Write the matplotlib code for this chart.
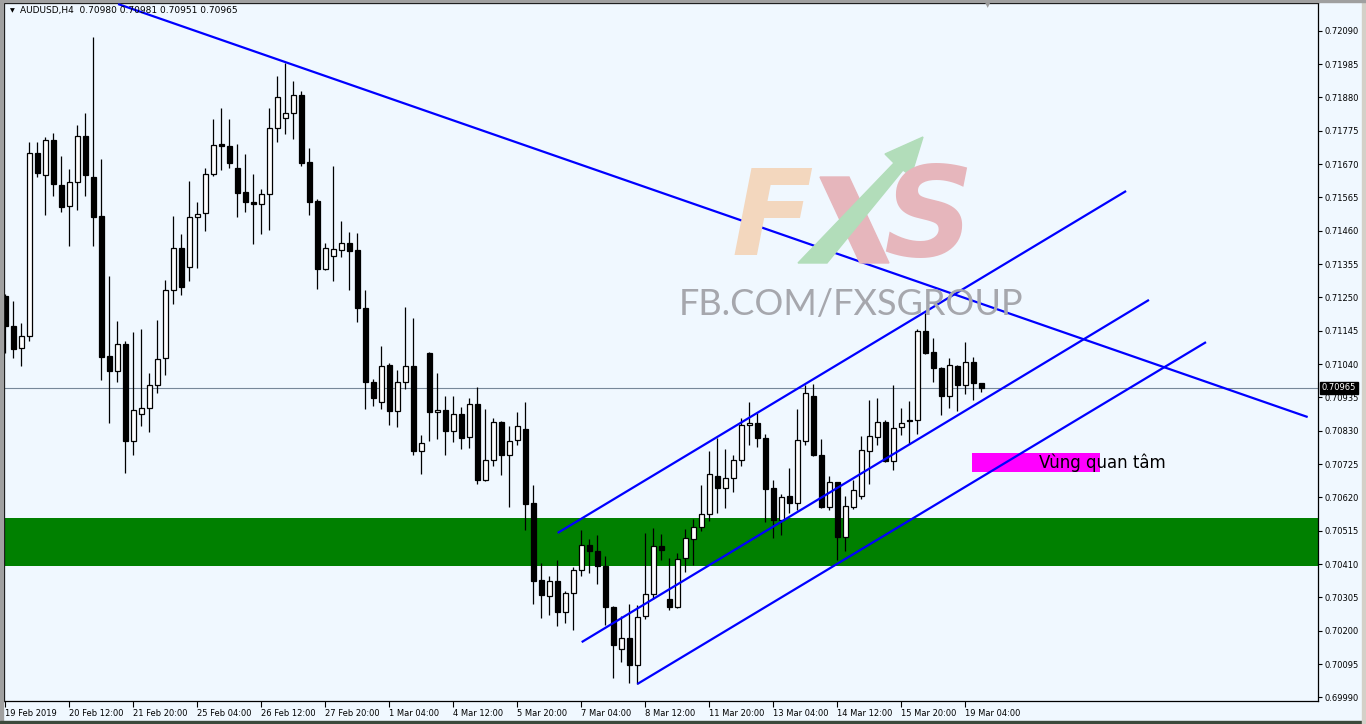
import matplotlib.pyplot as plt
from matplotlib.patches import Rectangle, Polygon

# AUDUSD H4 candles
opens = [0.71254, 0.71160, 0.71090, 0.71127, 0.71704, 0.71635, 0.71745, 0.71603, 0.71537, 0.71612,
         0.71757, 0.71628, 0.71505, 0.71064, 0.71017, 0.71102, 0.70799, 0.70882, 0.70901, 0.70973,
         0.71058, 0.71272, 0.71405, 0.71347, 0.71502, 0.71515, 0.71638, 0.71732, 0.71726, 0.71657,
         0.71581, 0.71550, 0.71543, 0.71575, 0.71783, 0.71814, 0.71830, 0.71887, 0.71676, 0.71554,
         0.71338, 0.71379, 0.71398, 0.71420, 0.71398, 0.71216, 0.70982, 0.70919, 0.71036, 0.70891,
         0.70982, 0.71033, 0.70765, 0.71074, 0.70888, 0.70894, 0.70828, 0.70882, 0.70809, 0.70913,
         0.70674, 0.70737, 0.70857, 0.70752, 0.70800, 0.70834, 0.70601, 0.70359, 0.70308, 0.70356,
         0.70258, 0.70318, 0.70390, 0.70469, 0.70450, 0.70403, 0.70274, 0.70141, 0.70176, 0.70091,
         0.70245, 0.70315, 0.70466, 0.70299, 0.70274, 0.70428, 0.70488, 0.70526, 0.70567, 0.70686,
         0.70649, 0.70680, 0.70737, 0.70847, 0.70853, 0.70806, 0.70649, 0.70550, 0.70623, 0.70601,
         0.70797, 0.70938, 0.70752, 0.70589, 0.70667, 0.70494, 0.70589, 0.70623, 0.70765, 0.70809,
         0.70857, 0.70734, 0.70841, 0.70863, 0.70863, 0.71143, 0.71077, 0.71027, 0.70938, 0.71033,
         0.70973, 0.71046, 0.70980]
highs = [0.71260, 0.71239, 0.71169, 0.71739, 0.71739, 0.71755, 0.71768, 0.71695, 0.71654, 0.71792,
         0.71830, 0.72070, 0.71685, 0.71317, 0.71175, 0.71114, 0.71140, 0.71149, 0.71011, 0.71179,
         0.71305, 0.71506, 0.71450, 0.71617, 0.71550, 0.71658, 0.71812, 0.71846, 0.71812, 0.71733,
         0.71702, 0.71639, 0.71590, 0.71846, 0.71947, 0.71988, 0.71932, 0.71900, 0.71721, 0.71560,
         0.71420, 0.71664, 0.71491, 0.71455, 0.71453, 0.71272, 0.70992, 0.71096, 0.71042, 0.71020,
         0.71219, 0.71184, 0.70815, 0.71077, 0.71011, 0.70938, 0.70938, 0.70904, 0.70932, 0.70967,
         0.70897, 0.70869, 0.70860, 0.70845, 0.70888, 0.70920, 0.70658, 0.70413, 0.70371, 0.70422,
         0.70324, 0.70400, 0.70516, 0.70488, 0.70500, 0.70434, 0.70277, 0.70245, 0.70283, 0.70281,
         0.70507, 0.70523, 0.70504, 0.70428, 0.70444, 0.70519, 0.70551, 0.70658, 0.70765, 0.70806,
         0.70771, 0.70752, 0.70870, 0.70920, 0.70885, 0.70819, 0.70674, 0.70630, 0.70712, 0.70897,
         0.70973, 0.70976, 0.70803, 0.70686, 0.70668, 0.70623, 0.70674, 0.70812, 0.70926, 0.70932,
         0.70863, 0.70973, 0.70901, 0.70923, 0.71149, 0.71200, 0.71121, 0.71030, 0.71058, 0.71036,
         0.71109, 0.71061, 0.70981]
lows = [0.71076, 0.71060, 0.71035, 0.71114, 0.71630, 0.71510, 0.71570, 0.71519, 0.71413, 0.71526,
        0.71570, 0.71413, 0.70991, 0.70855, 0.70984, 0.70698, 0.70754, 0.70846, 0.70827, 0.70950,
        0.71006, 0.71230, 0.71258, 0.71303, 0.71343, 0.71460, 0.71633, 0.71652, 0.71658, 0.71504,
        0.71519, 0.71419, 0.71451, 0.71463, 0.71740, 0.71766, 0.71750, 0.71665, 0.71510, 0.71275,
        0.71335, 0.71301, 0.71376, 0.71272, 0.71172, 0.70899, 0.70909, 0.70899, 0.70849, 0.70843,
        0.70960, 0.70752, 0.70693, 0.70797, 0.70803, 0.70752, 0.70793, 0.70771, 0.70775, 0.70661,
        0.70672, 0.70718, 0.70690, 0.70589, 0.70784, 0.70518, 0.70285, 0.70239, 0.70249, 0.70214,
        0.70223, 0.70201, 0.70371, 0.70381, 0.70346, 0.70217, 0.70050, 0.70100, 0.70034, 0.70032,
        0.70236, 0.70299, 0.70422, 0.70264, 0.70271, 0.70384, 0.70406, 0.70513, 0.70545, 0.70570,
        0.70586, 0.70637, 0.70719, 0.70784, 0.70780, 0.70543, 0.70491, 0.70500, 0.70570, 0.70579,
        0.70784, 0.70750, 0.70587, 0.70579, 0.70423, 0.70450, 0.70582, 0.70614, 0.70661, 0.70784,
        0.70731, 0.70705, 0.70815, 0.70787, 0.70819, 0.71072, 0.70982, 0.70879, 0.70901, 0.70891,
        0.70945, 0.70926, 0.70951]
closes = [0.71160, 0.71088, 0.71127, 0.71704, 0.71643, 0.71745, 0.71608, 0.71534, 0.71612, 0.71757,
          0.71635, 0.71504, 0.71063, 0.71017, 0.71102, 0.70799, 0.70894, 0.70901, 0.70973, 0.71055,
          0.71272, 0.71405, 0.71284, 0.71502, 0.71512, 0.71638, 0.71729, 0.71726, 0.71674, 0.71580,
          0.71550, 0.71543, 0.71575, 0.71783, 0.71880, 0.71830, 0.71887, 0.71674, 0.71551, 0.71338,
          0.71405, 0.71401, 0.71420, 0.71395, 0.71216, 0.70982, 0.70932, 0.71033, 0.70893, 0.70982,
          0.71033, 0.70765, 0.70790, 0.70888, 0.70894, 0.70828, 0.70882, 0.70806, 0.70913, 0.70674,
          0.70737, 0.70857, 0.70752, 0.70797, 0.70844, 0.70600, 0.70358, 0.70312, 0.70356, 0.70258,
          0.70318, 0.70390, 0.70469, 0.70450, 0.70403, 0.70274, 0.70154, 0.70176, 0.70091, 0.70242,
          0.70315, 0.70466, 0.70453, 0.70274, 0.70425, 0.70491, 0.70526, 0.70567, 0.70693, 0.70649,
          0.70680, 0.70737, 0.70847, 0.70853, 0.70808, 0.70645, 0.70548, 0.70620, 0.70601, 0.70800,
          0.70948, 0.70752, 0.70589, 0.70667, 0.70494, 0.70592, 0.70642, 0.70768, 0.70812, 0.70857,
          0.70734, 0.70838, 0.70853, 0.70860, 0.71143, 0.71074, 0.71027, 0.70938, 0.71036, 0.70973,
          0.71046, 0.70979, 0.70965]

date_labels = ["19 Feb 2019", "20 Feb 12:00", "21 Feb 20:00", "25 Feb 04:00", "26 Feb 12:00",
               "27 Feb 20:00", "1 Mar 04:00", "4 Mar 12:00", "5 Mar 20:00", "7 Mar 04:00",
               "8 Mar 12:00", "11 Mar 20:00", "13 Mar 04:00", "14 Mar 12:00", "15 Mar 20:00",
               "19 Mar 04:00"]
date_bars = [0, 8, 16, 24, 32, 40, 48, 56, 64, 72, 80, 88, 96, 104, 112, 120]

price_ticks = [0.72090, 0.71985, 0.71880, 0.71775, 0.71670, 0.71565, 0.71460, 0.71355, 0.71250,
               0.71145, 0.71040, 0.70935, 0.70830, 0.70725, 0.70620, 0.70515, 0.70410, 0.70305,
               0.70200, 0.70095, 0.69990]

last_price = 0.70965
zone = [0.70405, 0.70555]
interest_x = [120.9, 136.9]
interest_y = [0.70700, 0.70761]

# trend lines (bar index, price)
down_x, down_y = [14.1, 162.8], [0.72174, 0.70873]
ch_up_x, ch_up_y = [69.05, 140.1], [0.70508, 0.71585]
ch_mid_x, ch_mid_y = [72.05, 142.96], [0.70164, 0.71242]
ch_low_x, ch_low_y = [79.0, 150.09], [0.70032, 0.71109]

W, H = 1366, 724
BG = '#F0F8FF'


def fpx(x, y):
    return (x / W, 1 - y / H)


fig = plt.figure(figsize=(13.66, 7.24), dpi=100)
fig.patch.set_facecolor(BG)
ax = fig.add_axes([4 / W, 1 - 701 / H, 1314 / W, 698 / H])
ax.set_facecolor(BG)
ax.set_xlim(-0.16, 164.09)
ax.set_ylim(0.6997855, 0.7217725)

# watermark
fig.text(*fpx(772, 222), 'F', fontsize=86, fontweight='bold', fontstyle='italic',
         color='#F3D7BE', ha='center', va='center', zorder=0)
fig.text(*fpx(928, 222), 'S', fontsize=90, fontweight='bold', fontstyle='italic',
         color='#E6B6BC', ha='center', va='center', zorder=0)
fig.patches.append(Polygon([fpx(820, 177), fpx(849, 177), fpx(889, 263), fpx(860, 263)],
                           closed=True, transform=fig.transFigure, color='#E6B6BC', zorder=0))
fig.patches.append(Polygon([fpx(798, 263), fpx(894, 163), fpx(885, 154), fpx(923, 137),
                            fpx(911, 176), fpx(903, 170), fpx(827, 263)],
                           closed=True, transform=fig.transFigure, color='#B2DDBA', zorder=0))
fig.text(*fpx(679, 315), 'FB.COM/FXSGROUP', fontsize=26, family='Lato', fontweight='normal',
         color='#A6A7AD', ha='left', va='baseline', zorder=0)
ax.patch.set_alpha(0)

# support zone and price line
ax.axhspan(zone[0], zone[1], color='#008000', lw=0, zorder=1)
ax.axhline(last_price, color='#778899', lw=0.8, zorder=2)

# candles
for i in range(len(opens)):
    o, h, l, c = opens[i], highs[i], lows[i], closes[i]
    ax.vlines(i, l, h, color='black', lw=0.9, zorder=3)
    face = 'white' if c >= o else 'black'
    ax.add_patch(Rectangle((i - 0.3, min(o, c)), 0.6, abs(c - o), facecolor=face,
                           edgecolor='black', lw=0.9, zorder=4))

# interest box
ax.add_patch(Rectangle((interest_x[0], interest_y[0]), interest_x[1] - interest_x[0],
                       interest_y[1] - interest_y[0], color='#FF00FF', lw=0, zorder=4.5))
ax.text(129.2, sum(interest_y) / 2, 'Vùng quan tâm', fontsize=12, color='black',
        ha='left', va='center', zorder=6)

# trend lines
for xs, ys in [(down_x, down_y), (ch_up_x, ch_up_y), (ch_mid_x, ch_mid_y), (ch_low_x, ch_low_y)]:
    ax.plot(xs, ys, color='#0000FF', lw=1.6, zorder=5, solid_capstyle='butt')

# axes
for s in ax.spines.values():
    s.set_color('black')
    s.set_linewidth(0.9)
ax.yaxis.tick_right()
ax.set_yticks(price_ticks)
ax.set_yticklabels([f'{p:.5f}' for p in price_ticks])
ax.tick_params(axis='y', direction='out', length=3, width=0.8, pad=2, labelsize=6)
ax.set_xticks(date_bars)
ax.set_xticklabels(date_labels)
ax.tick_params(axis='x', direction='out', length=4, width=0.8, pad=2, labelsize=6)
for lbl in ax.get_xticklabels():
    lbl.set_ha('left')

ax.text(1.003, last_price, f'{last_price:.5f}', transform=ax.get_yaxis_transform(),
        fontsize=6, color='white', ha='left', va='center', zorder=10,
        bbox=dict(facecolor='black', edgecolor='black', pad=1.2))

# header
fig.text(*fpx(12, 11), '▼', fontsize=4.5, ha='center', va='center')
fig.text(*fpx(20, 11),
         f'AUDUSD,H4  {opens[-1]:.5f} {highs[-1]:.5f} {lows[-1]:.5f} {closes[-1]:.5f}',
         fontsize=6.5, ha='left', va='center')
fig.text(*fpx(988, 5), '▼', fontsize=5, color='#9A9A9A', ha='center', va='center')

# window frame
fig.patches.append(Rectangle((0, 0), 3 / W, 1, transform=fig.transFigure, color='#A0A0A0'))
fig.patches.append(Rectangle((0, 0), 1, 3 / H, transform=fig.transFigure, color='#3C4A3C'))
fig.patches.append(Rectangle((1362 / W, 0), 4 / W, 1, transform=fig.transFigure, color='#D4D0C8'))
fig.patches.append(Rectangle((0, 1 - 2 / H), 1, 2 / H, transform=fig.transFigure, color='#A0A0A0'))

plt.savefig('out.png', dpi=100, facecolor=BG)
